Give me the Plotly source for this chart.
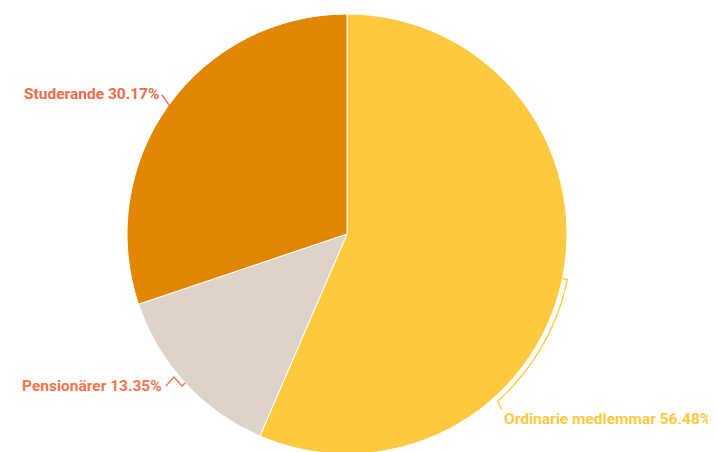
import math
import plotly.graph_objects as go

labels = ["Ordinarie medlemmar", "Pensionärer", "Studerande"]
values = [56.48, 13.35, 30.17]
colors = ["#FFC93F", "#DDD3C8", "#E08600"]
label_colors = ["#FFC93F", "#F7744B", "#F26B49"]

W, H = 716, 452
CX, CY, R = 339, 226, 220

fig = go.Figure()
fig.add_trace(go.Pie(
    labels=labels, values=values, sort=False, direction="clockwise", rotation=0,
    marker=dict(colors=colors, line=dict(color="#ffffff", width=1)),
    textinfo="none", hoverinfo="label+percent", showlegend=False,
    domain=dict(x=[0, 2 * CX / W], y=[(H - CY - R) / H, (H - CY + R) / H]),
))

# hidden pixel-space axes for leader lines and labels
fig.add_trace(go.Scatter(x=[0, W], y=[0, H], mode="markers",
                         marker=dict(opacity=0), hoverinfo="skip", showlegend=False))

total = sum(values)
cum = 0
mids = []
for v in values:
    mids.append((cum + v / 2) / total * 360)
    cum += v

def pt(theta, r):
    t = math.radians(theta)
    return CX + r * math.sin(t), CY - r * math.cos(t)

shapes = []
# Ordinarie: arc leader running alongside the pie
a0 = mids[0]
sx, sy = pt(a0, R - 2)
path = f"M {sx},{sy}"
for i in range(0, 41):
    th = a0 + (138 - a0) * i / 40
    x, y = pt(th, R + 5)
    path += f" L {x},{y}"
path += " L 494,402"
shapes.append(dict(type="path", path=path, xref="x", yref="y",
                   line=dict(color=label_colors[0], width=1.3)))
# Pensionärer: zigzag
ex, ey = pt(mids[1], R)
shapes.append(dict(type="path", xref="x", yref="y",
                   path=f"M 158,378 L 166,369 L 174,378 L {ex},{ey}",
                   line=dict(color=label_colors[1], width=1.3)))
# Studerande: short line
ex, ey = pt(mids[2], R - 3)
shapes.append(dict(type="path", xref="x", yref="y",
                   path=f"M 154,87 L {ex},{ey}",
                   line=dict(color=label_colors[2], width=1.3)))

font = dict(family="Roboto", size=15.5, weight="bold")
annotations = [
    dict(x=494, y=411, xanchor="left", yanchor="middle",
         text=f"{labels[0]} {values[0]:.2f}%"),
    dict(x=156, y=378, xanchor="right", yanchor="middle",
         text=f"{labels[1]} {values[1]:.2f}%"),
    dict(x=153, y=86, xanchor="right", yanchor="middle",
         text=f"{labels[2]} {values[2]:.2f}%"),
]
for a, c in zip(annotations, label_colors):
    a.update(xref="x", yref="y", showarrow=False, font=dict(font, color=c))

fig.update_layout(
    width=W, height=H, margin=dict(l=0, r=0, t=0, b=0),
    paper_bgcolor="#ffffff", plot_bgcolor="rgba(0,0,0,0)",
    xaxis=dict(range=[0, W], visible=False, fixedrange=True),
    yaxis=dict(range=[H, 0], visible=False, fixedrange=True),
    shapes=shapes, annotations=annotations,
)
fig.write_html("out.html")
